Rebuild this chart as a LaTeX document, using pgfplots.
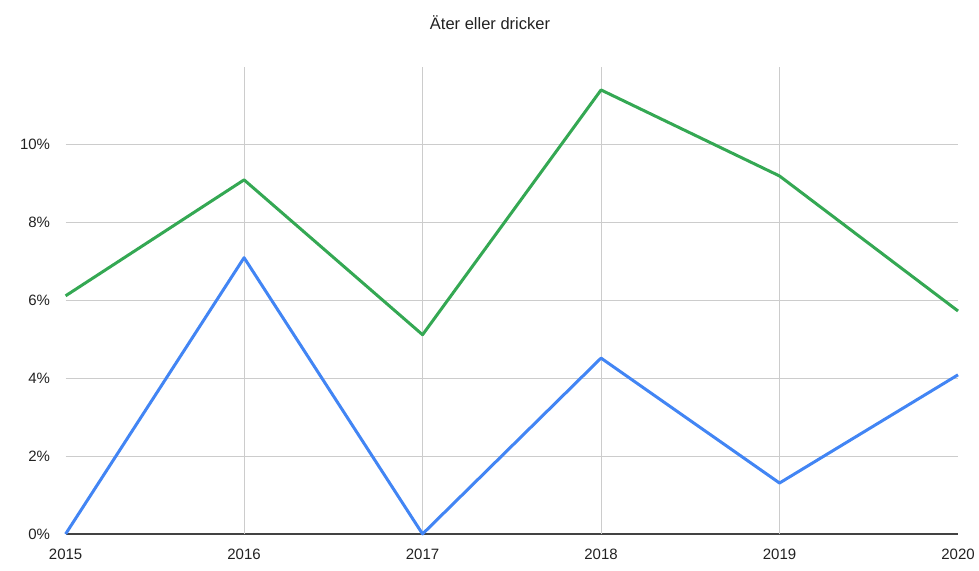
\documentclass[border=0pt]{standalone}
\usepackage{fontspec}
\setmainfont{Liberation Sans}
\usepackage{pgfplots}
\pgfplotsset{compat=1.18}
\definecolor{gBlue}{HTML}{4285F4}
\definecolor{gGreen}{HTML}{34A853}
\definecolor{gGrid}{HTML}{CCCCCC}
\definecolor{gInk}{HTML}{222222}

\begin{document}
\begin{tikzpicture}[x=1pt,y=1pt]
  \path[use as bounding box] (0,0) rectangle (979,570);
  \node[font=\fontsize{16.5}{19}\selectfont, text=gInk] at (490,547) {Äter eller dricker};
  \begin{axis}[
    at={(65.6pt,36pt)}, anchor=south west,
    scale only axis, width=892.4pt, height=467pt,
    xmin=2015, xmax=2020, ymin=0, ymax=12,
    clip=false,
    axis x line=bottom, axis y line=left,
    x axis line style={draw=gInk!85, line width=1.2pt, -},
    y axis line style={draw=none},
    xtick={2015,2016,2017,2018,2019,2020},
    xticklabels={2015,2016,2017,2018,2019,2020},
    extra x ticks={2016,2017,2018,2019},
    extra x tick labels={},
    extra x tick style={grid=major, major tick length=0pt},
    ytick={0,2,4,6,8,10},
    yticklabels={0\%,2\%,4\%,6\%,8\%,10\%},
    ymajorgrids,
    grid style={draw=gGrid, line width=1pt},
    major tick length=0pt,
    tick label style={font=\fontsize{15}{17}\selectfont, text=gInk},
    xticklabel style={yshift=-11pt},
    yticklabel style={xshift=-12pt},
  ]
    \addplot[draw=gBlue, line width=3pt, line join=round] coordinates {
      (2015,0) (2016,7.1) (2017,0) (2018,4.52) (2019,1.31) (2020,4.09)};
    \addplot[draw=gGreen, line width=3pt, line join=round] coordinates {
      (2015,6.12) (2016,9.1) (2017,5.12) (2018,11.41) (2019,9.2) (2020,5.73)};
  \end{axis}
\end{tikzpicture}
\end{document}
